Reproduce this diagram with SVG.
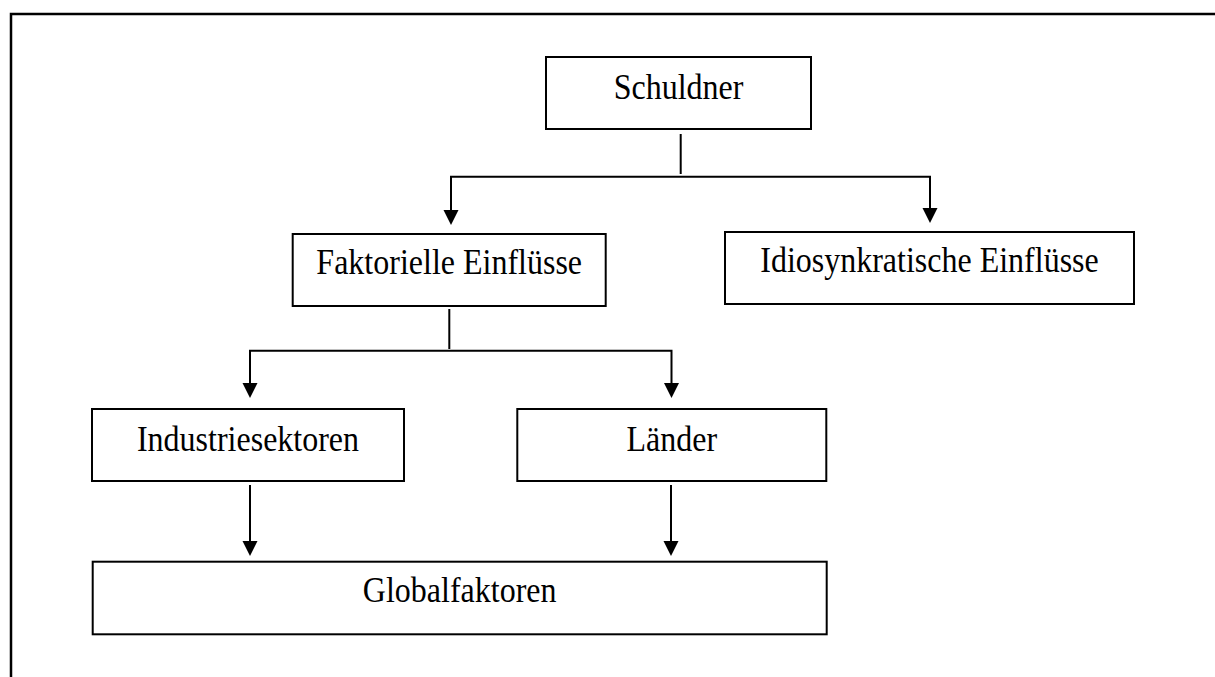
<svg xmlns="http://www.w3.org/2000/svg" width="1215" height="677" viewBox="0 0 1215 677">
<defs>
<style>
.box{fill:#fff;stroke:#000;stroke-width:2}
.lbl{font-family:"Liberation Serif","Times New Roman",serif;font-size:32px;fill:#000;text-anchor:middle}
.con{fill:none;stroke:#000;stroke-width:2}
.head{fill:#000;stroke:none}
.frame{fill:none;stroke:#000;stroke-width:2.5}
</style>
<path id="ah" class="head" d="M-7.5,-15 L7.5,-15 L0,0 Z"/>
</defs>
<rect width="1215" height="677" fill="#fff"/>
<path class="frame" d="M11,677 V14 H1215"/>
<g id="connectors">
<path class="con" d="M680.7,134 V174"/>
<path class="con" d="M451,211 V176.7 H930 V209"/>
<use href="#ah" x="451" y="225"/>
<use href="#ah" x="930" y="223"/>
<path class="con" d="M449.3,309 V349"/>
<path class="con" d="M250,384 V350.7 H671.5 V384"/>
<use href="#ah" x="250" y="398"/>
<use href="#ah" x="671.5" y="398"/>
<path class="con" d="M250,485 V542"/>
<use href="#ah" x="250" y="556"/>
<path class="con" d="M671,485 V542"/>
<use href="#ah" x="671" y="556"/>
</g>
<g id="schuldner">
<rect class="box" x="546" y="57" width="265" height="72"/>
<text class="lbl" transform="translate(678.5,99) scale(1,1.12)">Schuldner</text>
</g>
<g id="faktorielle">
<rect class="box" x="292.7" y="234" width="313" height="72"/>
<text class="lbl" transform="translate(449.2,274.3) scale(1,1.12)">Faktorielle Einflüsse</text>
</g>
<g id="idiosynkratische">
<rect class="box" x="725" y="232" width="409" height="72"/>
<text class="lbl" transform="translate(929.5,271.7) scale(1,1.12)">Idiosynkratische Einflüsse</text>
</g>
<g id="industriesektoren">
<rect class="box" x="92" y="409" width="312" height="72"/>
<text class="lbl" transform="translate(248,450.7) scale(1,1.12)">Industriesektoren</text>
</g>
<g id="laender">
<rect class="box" x="517.3" y="409" width="309" height="72"/>
<text class="lbl" transform="translate(671.8,450.7) scale(1,1.12)">Länder</text>
</g>
<g id="globalfaktoren">
<rect class="box" x="92.7" y="561.7" width="734" height="72.6"/>
<text class="lbl" transform="translate(459.7,601.7) scale(1,1.12)">Globalfaktoren</text>
</g>
</svg>
